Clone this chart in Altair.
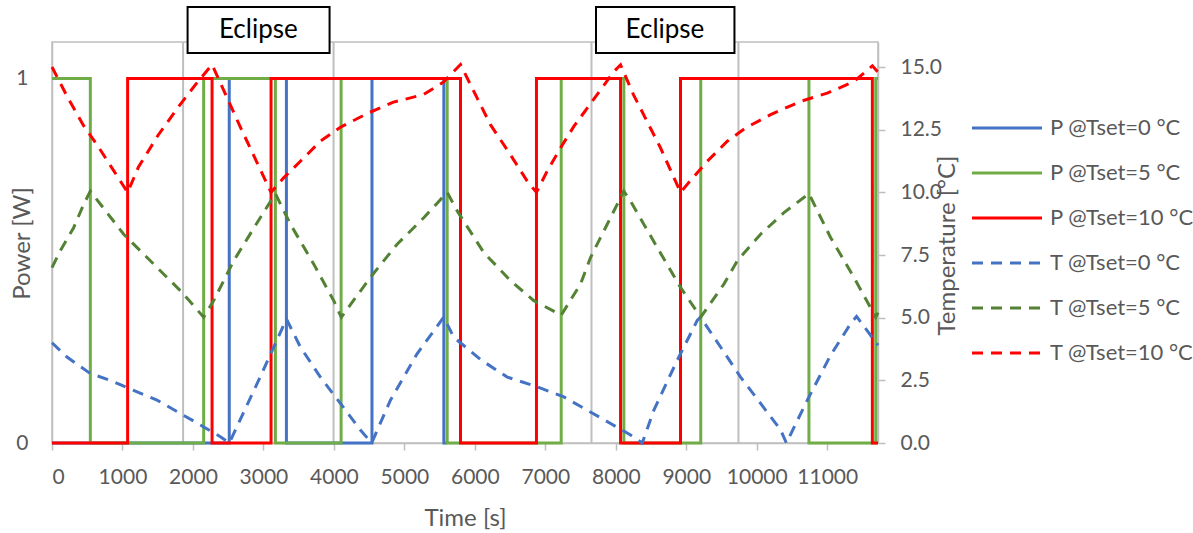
import altair as alt
import pandas as pd

# ---------------- data ----------------
X_MAX = 11720

# Heater power (step functions): switch times [s] and levels [W]
p0_t = [0, 2515, 3326, 4540, 5560, 5600]
p0_v = [0, 1, 0, 1, 0, 0]
p5_t = [0, 544, 2152, 3170, 4102, 5607, 7225, 8114, 9205, 10740, 11688, 11720]
p5_v = [1, 0, 1, 0, 1, 0, 1, 0, 1, 0, 1, 1]
p10_t = [0, 1073, 2271, 3108, 5796, 6874, 8067, 8918, 11640, 11720]
p10_v = [0, 1, 0, 1, 0, 1, 0, 1, 0, 0]

# Temperatures [°C]
t0_t = [0, 213, 544, 828, 1158, 1490, 1821, 2105, 2389, 2515, 2957, 3326, 3524, 3808,
        4092, 4376, 4535, 4802, 5180, 5558, 5700, 6080, 6459, 6884, 7262, 7594, 7925,
        8209, 8375, 8540, 8871, 9155, 9202, 9486, 9770, 10054, 10338, 10420, 10717,
        11047, 11331, 11416, 11720]
t0_v = [4.0, 3.43, 2.77, 2.5, 2.1, 1.71, 1.18, 0.72, 0.25, 0.0, 2.65, 4.95, 3.83, 2.63,
        1.58, 0.52, 0.0, 1.71, 3.56, 5.02, 4.22, 3.33, 2.63, 2.24, 1.84, 1.31, 0.78,
        0.32, 0.0, 1.31, 3.3, 4.89, 5.02, 3.83, 2.63, 1.58, 0.52, 0.0, 1.71,
        3.5, 4.76, 5.05, 3.9]

t5_t = [0, 118, 307, 449, 544, 1017, 1395, 1821, 2152, 2294, 2578, 2957, 3170, 3383,
        3713, 3997, 4105, 4518, 4897, 5275, 5607, 5749, 6126, 6505, 6836, 7225, 7499,
        7641, 7878, 8114, 8209, 8588, 8918, 9205, 9533, 9723, 10054, 10385, 10740,
        11047, 11378, 11688, 11720]
t5_v = [7.0, 7.67, 8.59, 9.52, 10.05, 8.33, 7.27, 6.08, 5.02, 5.68, 7.27, 9.0, 9.95, 8.73,
        7.14, 5.68, 5.02, 6.61, 7.93, 8.99, 10.0, 9.26, 7.6, 6.48, 5.68, 5.1, 6.34,
        7.4, 8.73, 10.05, 9.65, 7.8, 6.21, 5.02, 6.34, 7.27, 8.33, 9.19, 9.95,
        8.2, 6.61, 5.02, 5.2]

t10_t = [0, 230, 440, 650, 845, 1073, 1225, 1510, 1790, 2050, 2271, 2673, 3108, 3283,
         3524, 3808, 4092, 4475, 4844, 5270, 5554, 5796, 6033, 6221, 6505, 6742, 6874,
         7026, 7215, 7404, 7594, 7783, 7972, 8067, 8250, 8635, 8918, 9013, 9297, 9581,
         9841, 10196, 10622, 11000, 11378, 11640, 11720]
t10_v = [15.0, 13.75, 12.7, 11.85, 11.0, 10.0, 11.0, 12.3, 13.4, 14.35, 15.1, 12.6, 10.0, 10.57,
         11.24, 12.04, 12.6, 13.15, 13.6, 13.9, 14.4, 15.1, 13.76, 12.7, 11.5, 10.45, 10.0,
         10.85, 11.77, 12.63, 13.36, 14.09, 14.82, 15.09, 13.9, 11.77, 10.0, 10.32, 11.24, 12.04,
         12.57, 13.1, 13.63, 13.96, 14.42, 15.05, 14.8]

eclipse_start = [1860, 7655]
eclipse_end = [3995, 9740]
eclipse_label = ["Eclipse", "Eclipse"]

series_names = ["P @Tset=0 °C", "P @Tset=5 °C", "P @Tset=10 °C",
                "T @Tset=0 °C", "T @Tset=5 °C", "T @Tset=10 °C"]
series_colors = ["#4472C4", "#70AD47", "#FF0000", "#4472C4", "#548235", "#FF0000"]
series_dash = [[1, 0], [1, 0], [1, 0], [11, 8], [11, 8], [11, 8]]

FONT = "Lato"
GRAY_TXT = "#595959"
GRAY_LN = "#BFBFBF"

# ---------------- encodings ----------------
x_enc = alt.X("time:Q",
              scale=alt.Scale(domain=[0, X_MAX], nice=False, zero=False),
              axis=alt.Axis(title="Time [s]", values=list(range(0, 11501, 500)),
                            labelExpr="datum.value % 1000 == 0 ? datum.label : ''",
                            format="d", grid=False, tickSize=7, tickColor=GRAY_LN,
                            domainColor=GRAY_LN, domainWidth=1.5, tickWidth=1.5,
                            labelPadding=16, titlePadding=19))

color_enc = alt.Color("series:N",
                      scale=alt.Scale(domain=series_names, range=series_colors),
                      legend=alt.Legend(title=None, orient="none", legendX=936, legendY=67,
                                        symbolType="M-2,0L2,0", symbolSize=1225,
                                        symbolStrokeWidth=3, labelFontSize=22,
                                        labelFont=FONT, labelColor=GRAY_TXT,
                                        rowPadding=15, labelOffset=24, labelLimit=300))
dash_enc = alt.StrokeDash("series:N",
                          scale=alt.Scale(domain=series_names, range=series_dash),
                          legend=None)


def frame(name, ts, vs):
    return pd.DataFrame({"series": name, "time": ts, "value": vs})


y_pow = alt.Y("value:Q", scale=alt.Scale(domain=[0, 1.1], nice=False),
              axis=alt.Axis(title="Power [W]", orient="left", values=[0, 1], format="d",
                            grid=False, ticks=False, domainColor=GRAY_LN, domainWidth=1.5,
                            labelPadding=24, titleX=-30, titleY=201, titleAngle=270,
                            titleBaseline="middle", titleAlign="center"))
y_tmp = alt.Y("value:Q", scale=alt.Scale(domain=[0, 16], nice=False),
              axis=alt.Axis(title="Temperature [°C]", orient="right",
                            values=[0, 2.5, 5, 7.5, 10, 12.5, 15], format=".1f",
                            grid=False, tickSize=7, tickColor=GRAY_LN, tickWidth=1.5,
                            domainColor=GRAY_LN, domainWidth=1.5, labelPadding=15,
                            titleX=69, titleY=203, titleAngle=270,
                            titleBaseline="middle", titleAlign="center"))

ecl = pd.DataFrame({"start": eclipse_start, "end": eclipse_end, "label": eclipse_label})

rules = alt.Chart(ecl).transform_fold(["start", "end"], as_=["edge", "time"]).mark_rule(
    color=GRAY_LN, strokeWidth=2).encode(x=alt.X("time:Q"))


def pline(name, ts, vs):
    return alt.Chart(frame(name, ts, vs)).mark_line(
        interpolate="step-after", strokeWidth=3).encode(
        x=x_enc, y=y_pow, color=color_enc, strokeDash=dash_enc)


def tline(name, ts, vs):
    return alt.Chart(frame(name, ts, vs)).mark_line(strokeWidth=3).encode(
        x=x_enc, y=y_tmp, color=color_enc, strokeDash=dash_enc)


left = alt.layer(
    rules,
    pline(series_names[0], p0_t, p0_v),
    pline(series_names[1], p5_t, p5_v),
    pline(series_names[2], p10_t, p10_v),
)
right = alt.layer(
    tline(series_names[3], t0_t, t0_v),
    tline(series_names[4], t5_t, t5_v),
    tline(series_names[5], t10_t, t10_v),
)

boxes = alt.Chart(ecl).mark_rect(fill="white", stroke="black", strokeWidth=2,
                                 xOffset=4.5, x2Offset=-4).encode(
    x="start:Q", x2="end:Q", y=alt.value(-35), y2=alt.value(11))
texts = alt.Chart(ecl).transform_calculate(mid="(datum.start + datum.end) / 2").mark_text(
    font=FONT, fontSize=26, color="black", baseline="middle", align="center").encode(
    x="mid:Q", y=alt.value(-12), text="label:N")

chart = alt.layer(left, right, boxes, texts).resolve_scale(y="independent").properties(
    width=826, height=401,
    background="white",
    autosize=alt.AutoSizeParams(type="none"),
    padding={"left": 52, "top": 42, "right": 315, "bottom": 90},
).configure_view(stroke=GRAY_LN, strokeWidth=1.5).configure_axis(
    labelFont=FONT, titleFont=FONT, labelFontSize=21, titleFontSize=24,
    labelColor=GRAY_TXT, titleColor=GRAY_TXT, titleFontWeight="normal",
)

chart.save("out.html", embed_options={"renderer": "svg", "actions": False})
